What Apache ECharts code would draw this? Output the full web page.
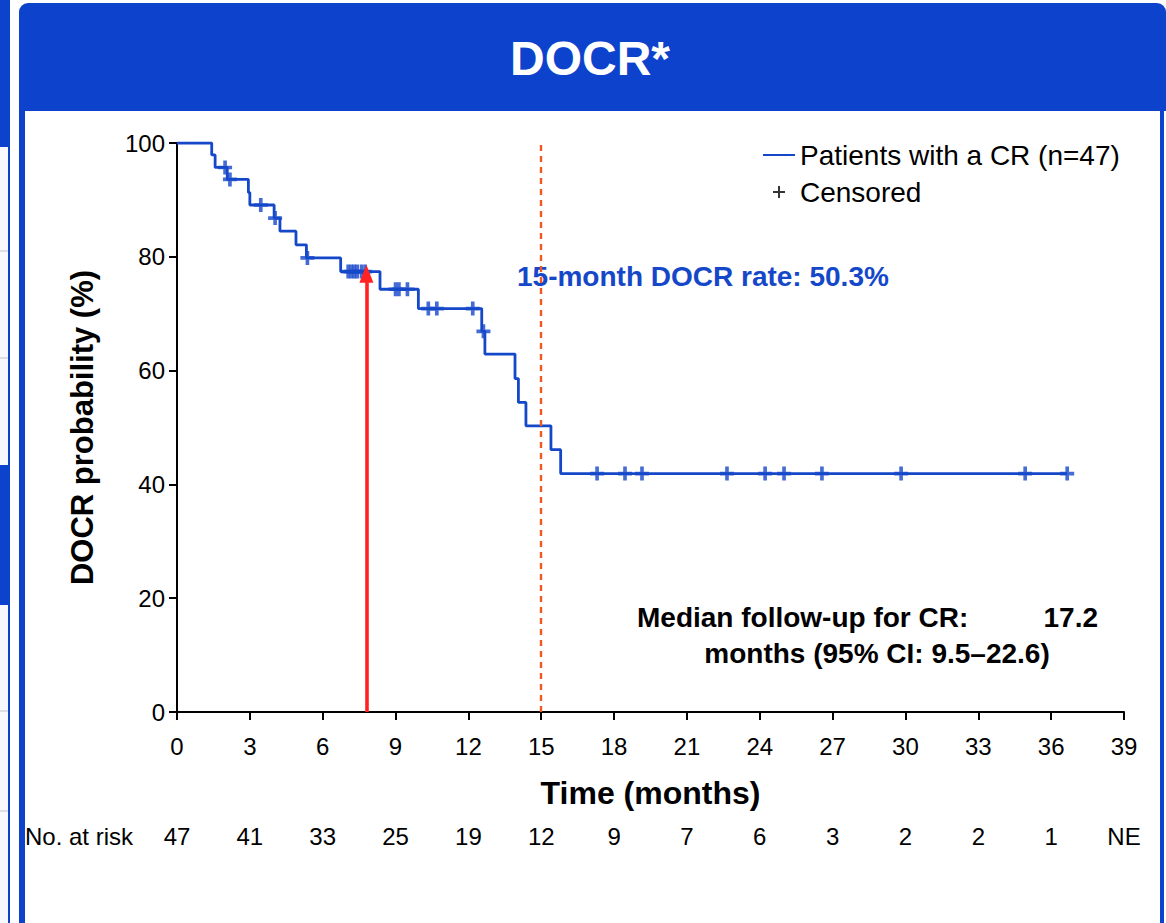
<!DOCTYPE html>
<html><head><meta charset="utf-8">
<script src="https://cdn.jsdelivr.net/npm/echarts@6/dist/echarts.min.js"></script>
<style>html,body{margin:0;padding:0;background:#fff}#c{width:1166px;height:923px}</style>
</head><body><div id="c"></div>
<script>
// ---- data ----
const kmTimes = [0, 1.43, 1.57, 2.07, 2.94, 3.0, 4.0, 4.24, 4.9, 5.33, 6.74, 8.36, 9.94, 12.55, 12.68, 13.92, 14.06, 14.37, 15.4, 15.8, 36.66];
const kmSurv  = [100, 97.9, 95.7, 93.6, 91.3, 89.1, 86.8, 84.5, 82.1, 79.8, 77.4, 74.3, 70.9, 66.9, 62.9, 58.6, 54.4, 50.3, 46.1, 41.9, 41.9];
const censorTimes = [1.98, 2.18, 3.45, 4.04, 5.37, 7.05, 7.18, 7.3, 7.42, 7.6, 7.75, 9.0, 9.14, 9.49, 10.35, 10.7, 12.18, 12.62, 17.3, 18.45, 19.15, 22.65, 24.22, 25.0, 26.56, 29.82, 34.93, 36.66];
const censorSurv  = [95.7, 93.6, 89.1, 86.8, 79.8, 77.4, 77.4, 77.4, 77.4, 77.4, 77.4, 74.3, 74.3, 74.3, 70.9, 70.9, 70.9, 66.9, 41.9, 41.9, 41.9, 41.9, 41.9, 41.9, 41.9, 41.9, 41.9, 41.9];
const xTickValues = [0, 3, 6, 9, 12, 15, 18, 21, 24, 27, 30, 33, 36, 39];
const riskLabels = ['47', '41', '33', '25', '19', '12', '9', '7', '6', '3', '2', '2', '1', 'NE'];
const yTickValues = [0, 20, 40, 60, 80, 100];
const arrowTime = 7.8, arrowTop = 77.0;
const landmarkTime = 15;
const seriesName = 'Patients with a CR (n=47)';
const censorName = 'Censored';

const FONT = '"Liberation Sans", Arial, sans-serif';
const BLUE = '#1547C9';
const HEADER = '#0D42CC';
const plusPath = 'path://M4.8,0h3.4v4.8h4.8v3.4h-4.8v4.8h-3.4v-4.8h-4.8v-3.4h4.8z';
const plusThin = 'path://M5,0h2v5h5v2h-5v5h-2v-5h-5v-2h5z';

const chart = echarts.init(document.getElementById('c'), null, {renderer: 'svg'});
const frame = [
  {type:'rect', shape:{x:0,y:0,width:8,height:923}, style:{fill:'#f8f9fc'}, silent:true},
  {type:'rect', shape:{x:0,y:0,width:8,height:147}, style:{fill:HEADER}, silent:true},
  {type:'rect', shape:{x:0,y:465,width:8,height:140}, style:{fill:HEADER}, silent:true},
  {type:'rect', shape:{x:0,y:250,width:8,height:2}, style:{fill:'#dcdee4'}, silent:true},
  {type:'rect', shape:{x:0,y:357,width:8,height:2}, style:{fill:'#dcdee4'}, silent:true},
  {type:'rect', shape:{x:0,y:710,width:8,height:2}, style:{fill:'#dcdee4'}, silent:true},
  {type:'rect', shape:{x:0,y:810,width:8,height:2}, style:{fill:'#dcdee4'}, silent:true},
  {type:'rect', shape:{x:8,y:0,width:2,height:923}, style:{fill:HEADER}, silent:true},
  {type:'rect', shape:{x:19,y:3,width:1147,height:108,r:[9,9,0,0]}, style:{fill:HEADER}, silent:true},
  {type:'rect', shape:{x:19,y:100,width:6,height:823}, style:{fill:HEADER}, silent:true},
  {type:'rect', shape:{x:1160,y:100,width:4,height:823}, style:{fill:HEADER}, silent:true},
  {type:'text', x:590, y:58, style:{text:'DOCR*', fill:'#fff', font:'bold 48px ' + FONT, align:'center', verticalAlign:'middle', textAlign:'center', textVerticalAlign:'middle'}},
  {type:'text', x:517, y:276, style:{text:'15-month DOCR rate: 50.3%', fill:BLUE, font:'bold 28px ' + FONT, align:'left', verticalAlign:'middle', textAlign:'left', textVerticalAlign:'middle'}},
  {type:'text', x:637, y:617, style:{text:'Median follow-up for CR:', fill:'#000', font:'bold 28px ' + FONT, align:'left', verticalAlign:'middle', textAlign:'left', textVerticalAlign:'middle'}},
  {type:'text', x:1098, y:617, style:{text:'17.2', fill:'#000', font:'bold 28px ' + FONT, align:'right', verticalAlign:'middle', textAlign:'right', textVerticalAlign:'middle'}},
  {type:'text', x:877, y:653, style:{text:'months (95% CI: 9.5\u201322.6)', fill:'#000', font:'bold 28px ' + FONT, align:'center', verticalAlign:'middle', textAlign:'center', textVerticalAlign:'middle'}},
  {type:'text', x:25, y:836, style:{text:'No. at risk', fill:'#000', font:'24px ' + FONT, align:'left', verticalAlign:'middle', textAlign:'left', textVerticalAlign:'middle'}}
];

const axisCommon = {
  type:'value', min:0, max:39, interval:3,
  splitLine:{show:false}
};

chart.setOption({
  animation:false,
  backgroundColor:'#fff',
  textStyle:{fontFamily:FONT},
  grid:{left:177, right:42, top:143, bottom:211, containLabel:false, outerBoundsMode:'none'},
  legend:{
    orient:'vertical', left:763, top:141, itemWidth:32, itemHeight:12, itemGap:9, padding:0,
    textStyle:{fontSize:28, color:'#000', fontFamily:FONT, lineHeight:28},
    data:[
      {name:seriesName, icon:'path://M0,0h32v2h-32z', itemStyle:{color:BLUE}},
      {name:censorName, icon:plusThin, itemStyle:{color:'#000'}}
    ]
  },
  xAxis:[
    Object.assign({}, axisCommon, {
      name:'Time (months)', nameLocation:'middle', nameGap:65,
      nameTextStyle:{fontSize:32, fontWeight:'bold', color:'#000', fontFamily:FONT},
      axisLine:{show:true, onZero:false, lineStyle:{color:'#000', width:2}},
      axisTick:{show:true, inside:false, length:8, lineStyle:{color:'#000', width:2}},
      axisLabel:{show:true, margin:22, fontSize:24, color:'#000', fontFamily:FONT, showMinLabel:true, showMaxLabel:true}
    }),
    Object.assign({}, axisCommon, {
      position:'bottom', offset:112,
      axisLine:{show:false}, axisTick:{show:false},
      axisLabel:{show:true, margin:0, fontSize:24, color:'#000', fontFamily:FONT, showMinLabel:true, showMaxLabel:true,
        formatter:function(v){ const i = xTickValues.indexOf(Math.round(v)); return i >= 0 ? riskLabels[i] : ''; }}
    })
  ],
  yAxis:{
    type:'value', min:0, max:100, interval:20,
    name:'DOCR probability (%)', nameLocation:'middle', nameGap:79, nameRotate:90,
    nameTextStyle:{fontSize:31, fontWeight:'bold', color:'#000', fontFamily:FONT},
    axisLine:{show:true, onZero:false, lineStyle:{color:'#000', width:2}},
    axisTick:{show:true, inside:false, length:8, lineStyle:{color:'#000', width:2}},
    axisLabel:{margin:12, fontSize:24, color:'#000', fontFamily:FONT, showMinLabel:true, showMaxLabel:true},
    splitLine:{show:false}
  },
  series:[
    {
      name:seriesName, type:'line', step:'end', xAxisIndex:0,
      data:kmTimes.map((t, i) => [t, kmSurv[i]]),
      symbol:'none', lineStyle:{color:BLUE, width:2.8}, itemStyle:{color:BLUE}, z:3,
      markLine:{
        silent:true, symbol:['none','none'], label:{show:false},
        lineStyle:{color:'#F05A22', width:2.4, type:[6,5]},
        data:[[{coord:[landmarkTime, 0]}, {coord:[landmarkTime, 100]}]]
      }
    },
    {
      name:censorName, type:'scatter', xAxisIndex:0,
      data:censorTimes.map((t, i) => [t, censorSurv[i]]),
      symbol:plusPath, symbolSize:14, itemStyle:{color:BLUE}, z:4
    },
    {
      name:'arrow', type:'line', xAxisIndex:0, data:[], z:6,
      markLine:{
        silent:true, symbol:['none','triangle'], symbolSize:[14,18], label:{show:false},
        lineStyle:{color:'#FF2222', width:3.6, type:'solid'},
        itemStyle:{color:'#FF2222'},
        data:[[{coord:[arrowTime, 0]}, {coord:[arrowTime, arrowTop]}]]
      }
    }
  ],
  graphic:frame
});
</script>
</body></html>
